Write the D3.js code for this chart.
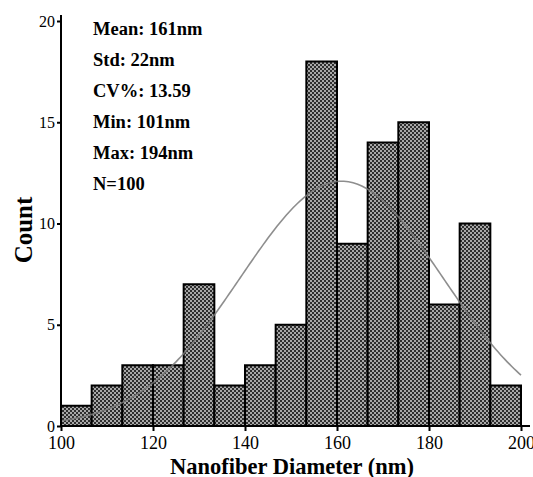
<!DOCTYPE html>
<html>
<head>
  <meta charset="UTF-8" />
  <script src="https://cdn.jsdelivr.net/npm/d3@7"></script>
  <style>
    body, html { margin:0; padding:0; background:#fff; }
  </style>
</head>
<body>
  <svg id="chart" width="533" height="477"></svg>
  <script>
    // histogram bin counts, 15 bins between 100 and 200 nm
    const counts = [1, 2, 3, 3, 7, 2, 3, 5, 18, 9, 14, 15, 6, 10, 2];
    const binRange = [100, 200];
    const xTicks = [100, 120, 140, 160, 180, 200];
    const yTicks = [0, 5, 10, 15, 20];
    const stats = ['Mean: 161nm', 'Std: 22nm', 'CV%: 13.59', 'Min: 101nm', 'Max: 194nm', 'N=100'];
    const fitMean = 161, fitStd = 22, nTotal = 100;

    const serif = 'Liberation Serif, DejaVu Serif, serif';
    const svg = d3.select('#chart').attr('font-family', serif);
    const x = d3.scaleLinear().domain(binRange).range([61, 521]);
    const y = d3.scaleLinear().domain([0, 20]).range([426, 21]);

    // checker pattern fill
    const pat = svg.append('defs').append('pattern')
      .attr('id', 'checker').attr('patternUnits', 'userSpaceOnUse')
      .attr('width', 4).attr('height', 4);
    pat.append('rect').attr('width', 4).attr('height', 4).attr('fill', '#a8a8a8');
    pat.append('rect').attr('width', 2).attr('height', 2).attr('fill', '#2e2e2e');
    pat.append('rect').attr('x', 2).attr('y', 2).attr('width', 2).attr('height', 2).attr('fill', '#2e2e2e');

    const binW = (binRange[1] - binRange[0]) / counts.length;
    const bins = counts.map((c, i) => ({ x0: binRange[0] + i * binW, x1: binRange[0] + (i + 1) * binW, c }));

    svg.append('g').selectAll('rect').data(bins).join('rect')
      .attr('x', d => x(d.x0))
      .attr('y', d => y(d.c))
      .attr('width', d => x(d.x1) - x(d.x0))
      .attr('height', d => y(0) - y(d.c))
      .attr('fill', 'url(#checker)')
      .attr('stroke', '#000')
      .attr('stroke-width', 2);

    // fitted normal curve from the mean / std shown in the legend
    const pts = d3.range(binRange[0], binRange[1] + 0.5, 0.5).map(v => {
      const z = (v - fitMean) / fitStd;
      return [v, nTotal * binW / (fitStd * Math.sqrt(2 * Math.PI)) * Math.exp(-0.5 * z * z)];
    });
    svg.append('path')
      .datum(pts)
      .attr('d', d3.line().x(d => x(d[0])).y(d => y(d[1])))
      .attr('fill', 'none')
      .attr('stroke', '#7a7a7a')
      .attr('stroke-opacity', 0.85)
      .attr('stroke-width', 1.6);

    // axes
    const xAxis = svg.append('g').attr('transform', `translate(0,${y(0)})`)
      .call(d3.axisBottom(x).tickValues(xTicks).tickSize(5).tickFormat(d3.format('d')));
    xAxis.select('.domain').remove();
    xAxis.selectAll('line').attr('stroke-width', 2);
    xAxis.selectAll('text').attr('y', 23).attr('dy', 0).attr('font-size', 18);
    svg.append('line').attr('x1', x(100) - 1).attr('x2', 530).attr('y1', y(0)).attr('y2', y(0))
      .attr('stroke', '#000').attr('stroke-width', 2);

    const yAxis = svg.append('g').attr('transform', `translate(${x(100)},0)`)
      .call(d3.axisLeft(y).tickValues(yTicks).tickSize(4).tickPadding(2));
    yAxis.select('.domain').remove();
    yAxis.selectAll('line').attr('stroke-width', 2);
    yAxis.selectAll('text').attr('font-size', 16);
    svg.append('line').attr('x1', x(100)).attr('x2', x(100)).attr('y1', 15).attr('y2', y(0) + 1)
      .attr('stroke', '#000').attr('stroke-width', 2);
    svg.selectAll('.tick text').attr('font-family', serif).attr('fill', '#000');
    xAxis.attr('font-family', serif);
    yAxis.attr('font-family', serif);

    // titles
    svg.append('text')
      .attr('font-weight', 'bold').attr('font-size', 22.5)
      .attr('x', 292).attr('y', 474).attr('text-anchor', 'middle')
      .text('Nanofiber Diameter (nm)');
    svg.append('text')
      .attr('font-weight', 'bold').attr('font-size', 25)
      .attr('transform', 'translate(32,230) rotate(-90)').attr('text-anchor', 'middle')
      .text('Count');

    // stats block
    svg.append('g').selectAll('text').data(stats).join('text')
      .attr('font-weight', 'bold').attr('font-size', 18.5)
      .attr('x', 93)
      .attr('y', (d, i) => 35 + i * 31)
      .text(d => d);
  </script>
</body>
</html>
